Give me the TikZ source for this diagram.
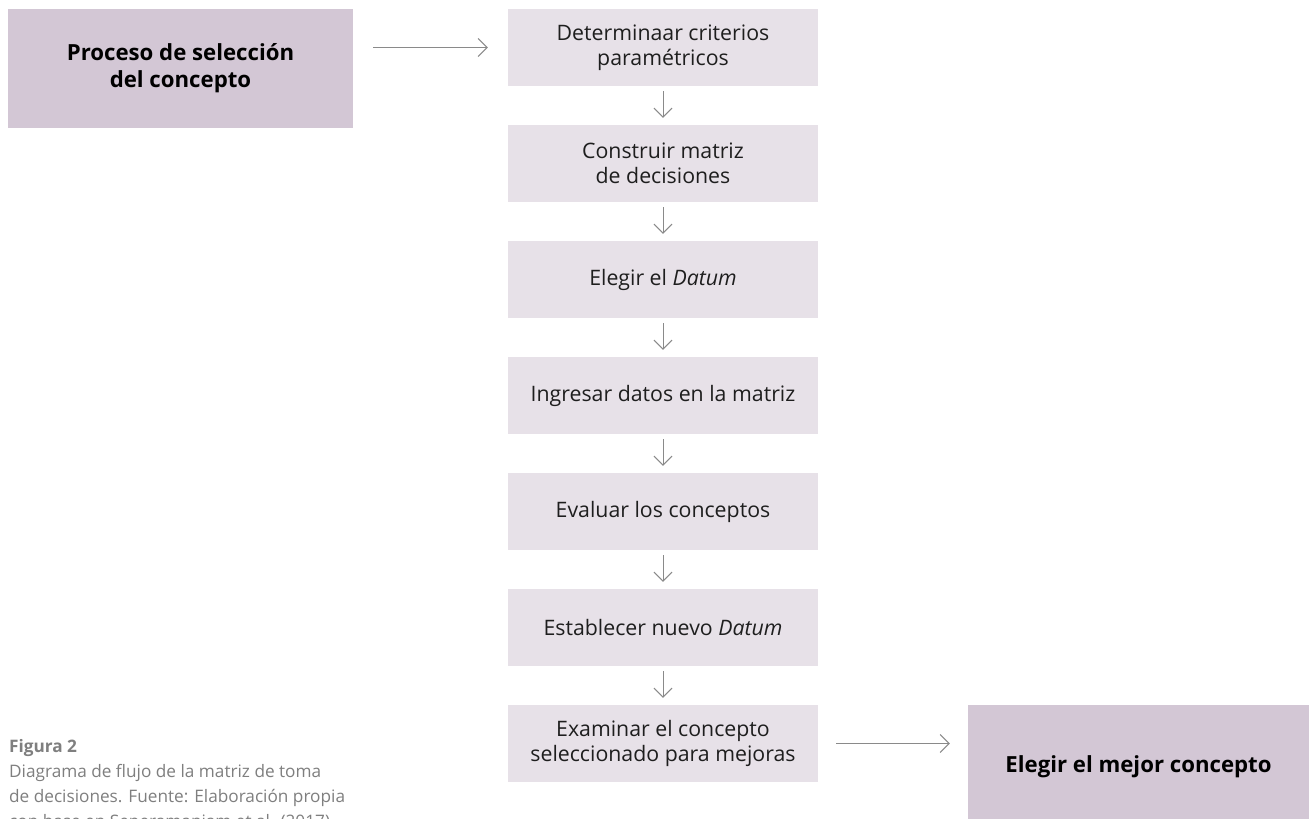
\documentclass[tikz,border=0pt]{standalone}
\usepackage{fontspec}
\setmainfont{Open Sans}
\usetikzlibrary{arrows.meta}
\definecolor{darkbox}{HTML}{D3C7D5}
\definecolor{lightbox}{HTML}{E7E1E8}
\definecolor{arrgray}{HTML}{8A8A8A}
\definecolor{capgray}{HTML}{7F7F7F}
\definecolor{txt}{HTML}{1E1E1E}
\tikzset{
  stepbox/.style={fill=lightbox, minimum width=310pt, minimum height=77pt, inner sep=0pt,
    align=center, text=txt, font=\fontsize{21.3}{25}\selectfont},
  bigbox/.style={fill=darkbox, inner sep=0pt, align=center, text=black,
    font=\fontsize{22.2}{27}\selectfont\bfseries},
  arr/.style={draw=arrgray, line width=1pt, -{Straight Barb[length=9pt,width=18pt]}},
}
\begin{document}
\begin{tikzpicture}[x=1pt,y=-1pt]
\fill[white] (0,0) rectangle (1309,819);
\clip (0,0) rectangle (1309,819);
\node[bigbox, minimum width=345pt, minimum height=119pt] (pA) at (180.5,68.5) {Proceso de selección\\del concepto};
\node[stepbox] (b1) at (663,47.5) {Determinaar criterios\\paramétricos};
\node[stepbox] (b2) at (663,163.5) {Construir matriz\\de decisiones};
\node[stepbox] (b3) at (663,279.5) {Elegir el \textit{Datum}};
\node[stepbox] (b4) at (663,395.5) {Ingresar datos en la matriz};
\node[stepbox] (b5) at (663,511.5) {Evaluar los conceptos};
\node[stepbox] (b6) at (663,627.5) {Establecer nuevo \textit{Datum}};
\node[stepbox] (b7) at (663,743.5) {Examinar el concepto\\seleccionado para mejoras};
\node[bigbox, minimum width=341pt, minimum height=124pt] (fin) at (1138.5,767) {Elegir el mejor concepto};
\draw[arr, shorten <=20pt, shorten >=20pt] (pA.east |- b1.west) -- (b1.west);
\foreach \a/\b in {b1/b2,b2/b3,b3/b4,b4/b5,b5/b6,b6/b7}
  \draw[arr, shorten <=5pt, shorten >=7pt] (\a.south) -- (\b.north);
\draw[arr, shorten <=18pt, shorten >=18pt] (b7.east) -- (b7.east -| fin.west);
\node[anchor=north west, align=left, inner sep=0pt, text=capgray,
  font=\fontsize{17.2}{25}\selectfont] (cap) at (9,739)
  {\textbf{Figura 2}\\Diagrama de flujo de la matriz de toma\\de decisiones. Fuente: Elaboración propia\\con base en Seperamaniam et al. (2017).};
\end{tikzpicture}
\end{document}
